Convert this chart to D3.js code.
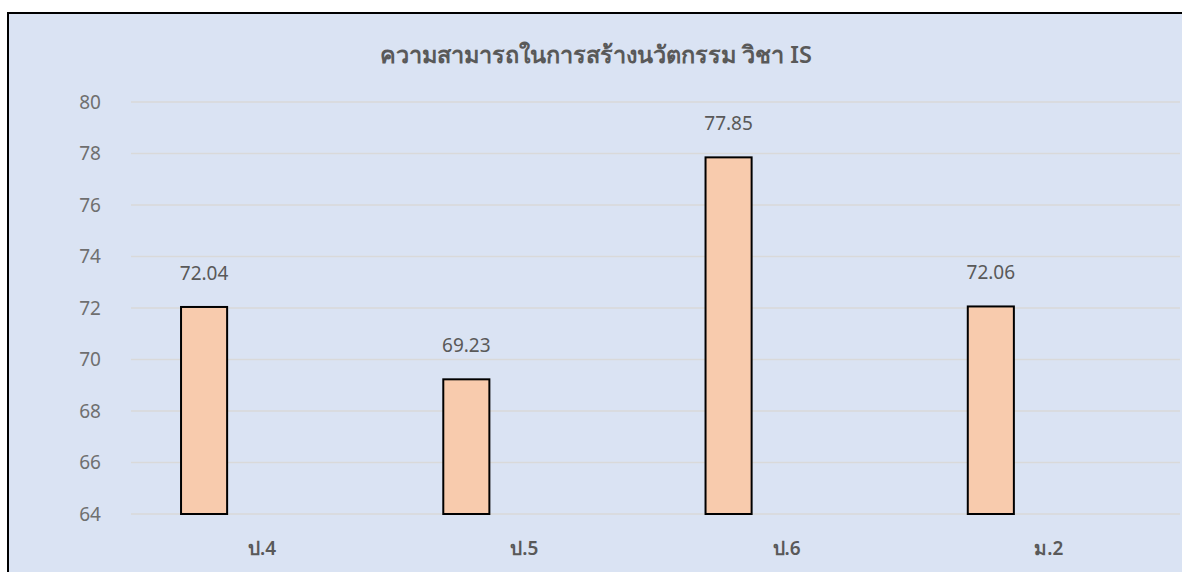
<!DOCTYPE html>
<html>
<head>
<meta charset="utf-8">
<script src="https://cdn.jsdelivr.net/npm/d3@7"></script>
<style>
  body { margin: 0; background: #ffffff; }
  svg { display: block; font-family: "Noto Sans", "Open Sans", sans-serif; }
</style>
</head>
<body>
<div id="chart"></div>
<script>
// data
var title = "ความสามารถในการสร้างนวัตกรรม วิชา IS";
var categories = ["ป.4", "ป.5", "ป.6", "ม.2"];
var values = [72.04, 69.23, 77.85, 72.06];
var yTicks = [64, 66, 68, 70, 72, 74, 76, 78, 80];

var width = 1182, height = 572;

var svg = d3.select("#chart")
    .append("svg")
    .attr("width", width)
    .attr("height", height);

// chart area frame
svg.append("rect")
    .attr("x", 8)
    .attr("y", 13)
    .attr("width", width)
    .attr("height", height)
    .style("fill", "#dae3f3")
    .style("stroke", "#000000")
    .style("stroke-width", 2);

var x = d3.scaleBand()
    .domain(categories)
    .range([131, 1180]);

// bars sit in the first slot of each category
var xInner = d3.scaleBand()
    .domain(["a", "b"])
    .range([0, x.bandwidth()])
    .paddingInner(0.603)
    .paddingOuter(0.431);

var y = d3.scaleLinear()
    .domain([64, 80])
    .range([514, 102]);

// gridlines
svg.append("g")
    .selectAll("line")
    .data(yTicks)
    .enter()
    .append("line")
    .attr("x1", 131)
    .attr("x2", 1180)
    .attr("y1", function(d) { return y(d); })
    .attr("y2", function(d) { return y(d); })
    .style("stroke", "#d9d9d9")
    .style("stroke-width", 1.5);

// y axis labels
var yAxis = svg.append("g")
    .attr("transform", "translate(101,0)")
    .call(d3.axisLeft(y).tickValues(yTicks).tickSize(0).tickPadding(0));
yAxis.select(".domain").remove();
yAxis.selectAll("text")
    .style("font-size", "19px")
    .style("font-family", "\"Noto Sans\", sans-serif")
    .style("fill", "#6f6f6f");

// x axis labels
var xAxis = svg.append("g")
    .attr("transform", "translate(0,541)")
    .call(d3.axisBottom(x).tickSize(0).tickPadding(0));
xAxis.select(".domain").remove();
xAxis.selectAll("text")
    .style("font-size", "19px")
    .style("font-weight", "600")
    .style("font-family", "\"Noto Sans\", sans-serif")
    .style("fill", "#595959");

// bars
svg.append("g")
    .selectAll("rect")
    .data(values)
    .enter()
    .append("rect")
    .attr("x", function(d, i) { return x(categories[i]) + xInner("a"); })
    .attr("y", function(d) { return y(d); })
    .attr("width", xInner.bandwidth())
    .attr("height", function(d) { return y(64) - y(d); })
    .style("fill", "#f8cbad")
    .style("stroke", "#000000")
    .style("stroke-width", 2);

// value labels
svg.append("g")
    .selectAll("text")
    .data(values)
    .enter()
    .append("text")
    .attr("x", function(d, i) { return x(categories[i]) + xInner("a") + xInner.bandwidth() / 2; })
    .attr("y", function(d) { return y(d) - 27; })
    .attr("text-anchor", "middle")
    .style("font-size", "19px")
    .style("fill", "#595959")
    .text(function(d) { return d.toFixed(2); });

// title
svg.append("text")
    .attr("x", 596)
    .attr("y", 63)
    .attr("text-anchor", "middle")
    .style("font-size", "23.5px")
    .style("font-weight", "600")
    .style("fill", "#595959")
    .text(title);
</script>
</body>
</html>
